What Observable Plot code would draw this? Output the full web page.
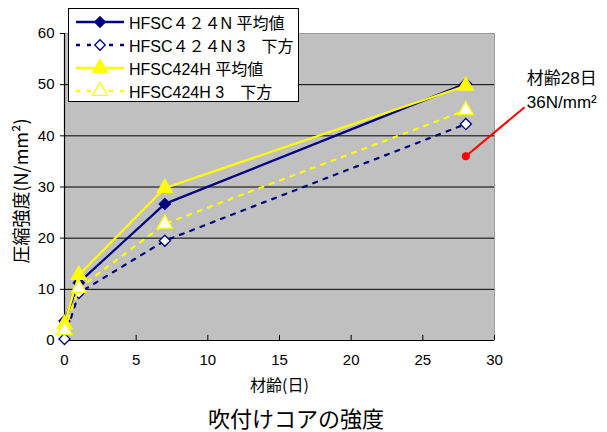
<!DOCTYPE html>
<html>
<head>
<meta charset="utf-8">
<script src="https://cdn.jsdelivr.net/npm/d3@7"></script>
<script src="https://cdn.jsdelivr.net/npm/@observablehq/plot@0.6"></script>
<style>
  body { margin: 0; background: #fff; }
  #wrap { position: relative; width: 607px; height: 432px; font-family: "Liberation Sans", "Noto Sans CJK JP", sans-serif; }
  #legend { position: absolute; left: 68px; top: 8px; width: 231px; height: 94px; border: 1px solid #000; background: #fff; box-sizing: border-box; padding-top: 1px; }
  .row { display: flex; align-items: center; height: 23px; font-size: 16px; color: #000; white-space: nowrap; }
  .row svg { margin-left: 7px; margin-right: 5px; flex: none; }
  #title { position: absolute; left: 0; top: 402px; width: 592px; text-align: center; font-size: 22px; line-height: 30px; font-family: "Noto Sans CJK JP", sans-serif; color: #000; }
</style>
</head>
<body>
<div id="wrap">
  <div id="chart"></div>
  <div id="legend"></div>
  <div id="title">吹付けコアの強度</div>
</div>
<script>
const days = [0, 1, 7, 28];
const nAvg = [3.8, 11.3, 26.7, 50.2];
const nLow = [0.3, 9.3, 19.5, 42.3];
const hAvg = [3.2, 12.8, 29.8, 49.8];
const hLow = [2.0, 10.2, 22.8, 45.0];
const seriesNames = ["HFSC４２４N 平均値", "HFSC４２４N 3　下方", "HFSC424H 平均値", "HFSC424H 3　下方"];
const xTicks = [0, 5, 10, 15, 20, 25, 30];
const yTicks = [0, 10, 20, 30, 40, 50, 60];
const gridValues = [10, 20, 30, 40, 50];
const annotation = [{x: 28, y: 36, label: "材齢28日\n36N/mm²"}];

const styles = [
  {stroke: "#000080", dash: null, symbol: "diamond2", fill: "#000080", r: 5},
  {stroke: "#000080", dash: "4,7", symbol: "diamond2", fill: "#fff", r: 5},
  {stroke: "#ffff00", dash: null, symbol: "triangle", fill: "#ffff00", r: 5.6},
  {stroke: "#ffff00", dash: "4,7", symbol: "triangle", fill: "#fff", r: 5.6}
];
const allValues = [nAvg, nLow, hAvg, hLow];
const series = allValues.map((vals, i) => days.map((d, j) => ({day: d, value: vals[j], name: seriesNames[i]})));

const seriesMarks = series.flatMap((data, i) => {
  const s = styles[i];
  return [
    Plot.line(data, {x: "day", y: "value", stroke: s.stroke, strokeWidth: 2.2, strokeDasharray: s.dash}),
    Plot.dot(data, {x: "day", y: "value", symbol: s.symbol, r: s.r, fill: s.fill, stroke: s.stroke, strokeWidth: 1.3})
  ];
});

const chart = Plot.plot({
  width: 607,
  height: 402,
  marginLeft: 64,
  marginRight: 113,
  marginTop: 33,
  marginBottom: 62,
  style: {fontFamily: "Liberation Sans, Noto Sans CJK JP, sans-serif", fontSize: "15px", color: "#000", background: "transparent"},
  x: {domain: [0, 30], ticks: xTicks},
  y: {domain: [0, 60], ticks: yTicks},
  marks: [
    Plot.frame({fill: "#c0c0c0", stroke: "#9a9a9a"}),
    Plot.gridY(gridValues, {stroke: "#000", strokeOpacity: 1, strokeWidth: 1}),
    Plot.ruleY([0], {stroke: "#000", strokeWidth: 1.2}),
    Plot.ruleX([0], {stroke: "#000", strokeWidth: 1.2}),
    Plot.ruleX(xTicks, {x: d => d, y1: 0, y2: 1, stroke: "#000"}),
    Plot.axisX({ticks: xTicks, tickSize: 0, tickPadding: 14, fontSize: 15, label: null}),
    Plot.axisY({ticks: yTicks, tickSize: 4, tickPadding: 6, fontSize: 15, label: null}),
    Plot.text(["材齢(日)"], {frameAnchor: "bottom", dy: 50, dx: 0, fontSize: 16, fontFamily: "Noto Sans CJK JP, sans-serif"}),
    Plot.text(["圧縮強度(N/mm²)"], {frameAnchor: "left", textAnchor: "middle", dx: -42, dy: 4, rotate: -90, fontSize: 18, fontFamily: "Noto Sans CJK JP, sans-serif"}),
    ...seriesMarks,
    Plot.link(annotation, {x1: "x", y1: "y", x2: d => d.x + 4.1, y2: d => d.y + 9.6, stroke: "#ff0000", strokeWidth: 2}),
    Plot.dot(annotation, {x: "x", y: "y", r: 4, fill: "#ff0000"}),
    Plot.text(annotation, {x: "x", y: "y", text: "label", dx: 61, dy: -68, textAnchor: "start", lineAnchor: "middle", lineHeight: 1.4, fontSize: 17, fill: "#000"})
  ]
});
document.getElementById("chart").append(chart);

// legend
const legend = document.getElementById("legend");
styles.forEach((s, i) => {
  const row = document.createElement("div");
  row.className = "row";
  const svg = d3.create("svg").attr("width", 48).attr("height", 20);
  svg.append("line").attr("x1", 0).attr("x2", 48).attr("y1", 10).attr("y2", 10)
    .attr("stroke", s.stroke).attr("stroke-width", 2.5).attr("stroke-dasharray", s.dash);
  const sym = s.symbol === "triangle" ? d3.symbolTriangle : d3.symbolDiamond2;
  const size = s.symbol === "triangle" ? 95 : 70;
  svg.append("path").attr("d", d3.symbol(sym, size)()).attr("transform", "translate(24,10)")
    .attr("fill", s.fill).attr("stroke", s.stroke).attr("stroke-width", 1.3);
  row.append(svg.node());
  const span = document.createElement("span");
  span.textContent = seriesNames[i];
  row.append(span);
  legend.append(row);
});
</script>
</body>
</html>
